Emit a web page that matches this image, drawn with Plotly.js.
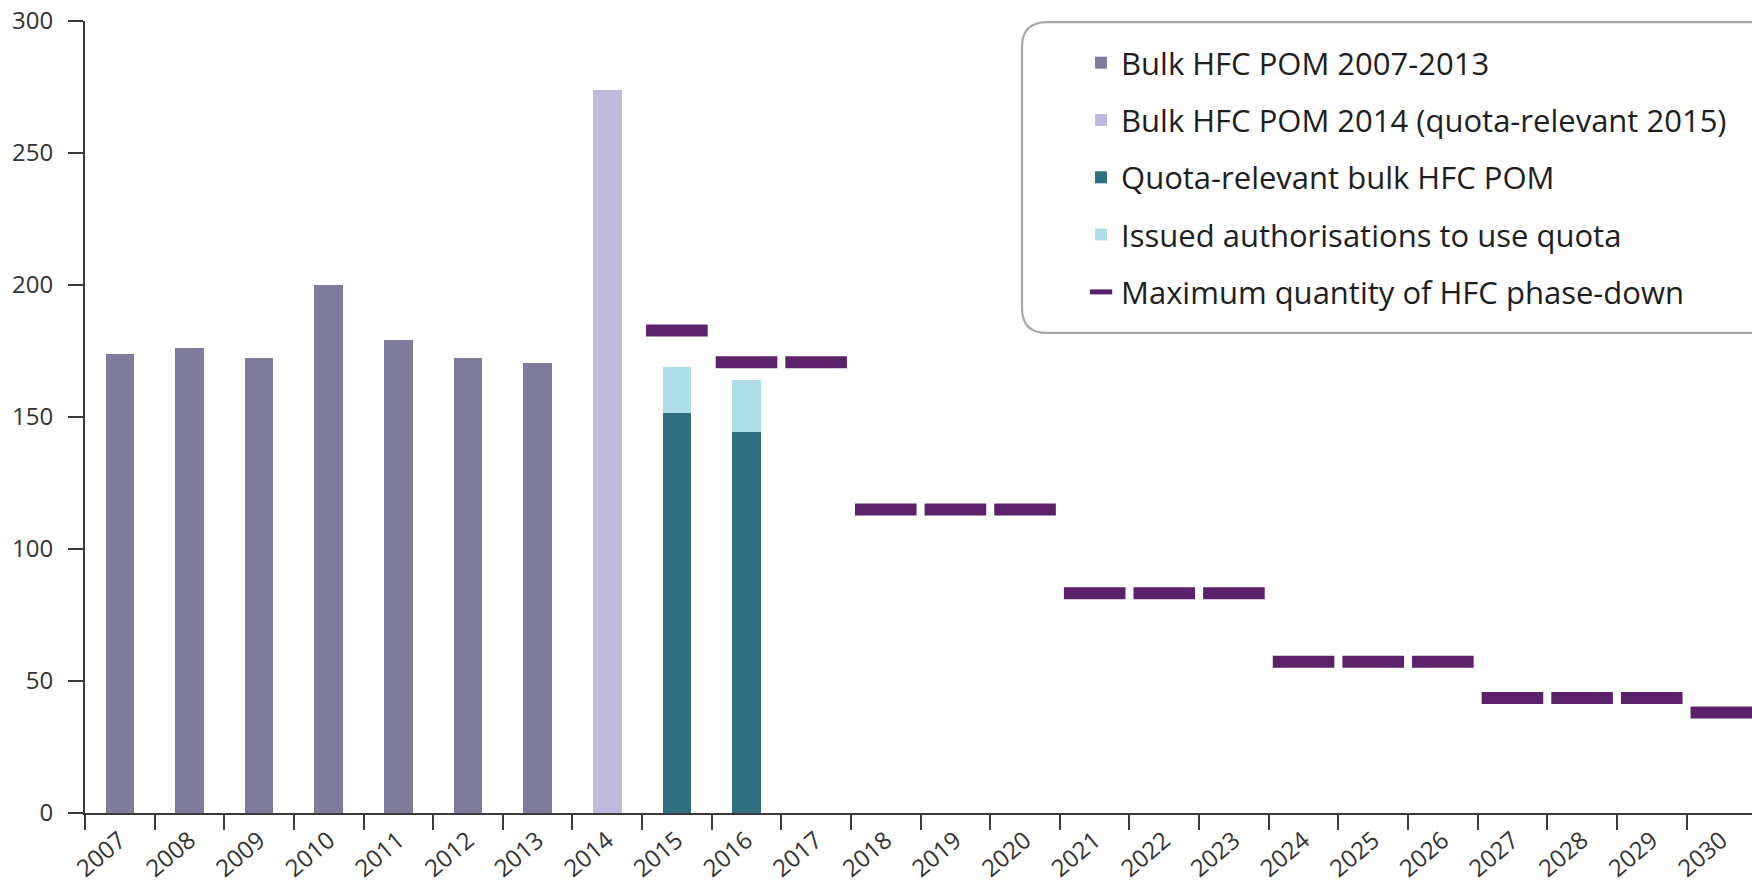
<!DOCTYPE html>
<html>
<head>
<meta charset="utf-8">
<script src="https://cdn.plot.ly/plotly-3.0.1.min.js"></script>
<style>html,body{margin:0;padding:0;overflow:hidden;background:#ffffff;}</style>
</head>
<body>
<div id="chart" style="width:1752px;height:888px;"></div>
<script>
// ---- data ----
const years = ['2007','2008','2009','2010','2011','2012','2013','2014','2015','2016','2017','2018',
               '2019','2020','2021','2022','2023','2024','2025','2026','2027','2028','2029','2030'];

const bulkYears = ['2007','2008','2009','2010','2011','2012','2013'];
const bulkValues = [174, 176, 172.5, 200, 179, 172.5, 170.5];

const bulk2014Years = ['2014'];
const bulk2014Values = [274];

const quotaYears = ['2015','2016'];
const quotaValues = [151.4, 144.4];
const authorisationValues = [17.7, 19.6];

const phaseYears = ['2015','2016','2017','2018','2019','2020','2021','2022','2023',
                    '2024','2025','2026','2027','2028','2029','2030'];
const phaseValues = [182.8, 170.7, 170.7, 115, 115, 115, 83.2, 83.2, 83.2,
                     57.3, 57.3, 57.3, 43.6, 43.6, 43.6, 38.1];

const seriesNames = [
  'Bulk HFC POM 2007-2013',
  'Bulk HFC POM 2014 (quota-relevant 2015)',
  'Quota-relevant bulk HFC POM',
  'Issued authorisations to use quota',
  'Maximum quantity of HFC phase-down'
];
const yTicks = [0, 50, 100, 150, 200, 250, 300];

// ---- styles ----
const colors = ['#7e7b9c', '#bdbadd', '#306f80', '#aedfe9', '#5b2169'];
const barWidth = 0.41;
const axisColor = '#3a3a3a';
const yTickFont = {family: 'Open Sans', size: 24, color: '#333333'};
const xTickFont = {family: 'Open Sans', size: 24, color: '#333333'};

const traces = [
  {type: 'bar', x: bulkYears, y: bulkValues, name: seriesNames[0], legendgroup: 'g0',
   width: barWidth, marker: {color: colors[0], line: {width: 0}}},
  {type: 'bar', x: bulk2014Years, y: bulk2014Values, name: seriesNames[1], legendgroup: 'g1',
   width: barWidth, marker: {color: colors[1], line: {width: 0}}},
  {type: 'bar', x: quotaYears, y: quotaValues, name: seriesNames[2], legendgroup: 'g2',
   width: barWidth, marker: {color: colors[2], line: {width: 0}}},
  {type: 'bar', x: quotaYears, y: authorisationValues, name: seriesNames[3], legendgroup: 'g3',
   width: barWidth, marker: {color: colors[3], line: {width: 0}}},
  {type: 'scatter', mode: 'markers', x: phaseYears, y: phaseValues, name: seriesNames[4], legendgroup: 'g4',
   cliponaxis: false,
   marker: {symbol: 'line-ew', size: 44, color: colors[4], line: {width: 12, color: colors[4]}}}
];

// rounded legend frame (decoration, paper coordinates)
const L = 0.5621, T = 0.9987, B = 0.6061, R = 1.02, rx = 0.0150, ry = 0.0316;
const framePath = `M ${R},${T} L ${L+rx},${T} Q ${L},${T} ${L},${T-ry} L ${L},${B+ry} Q ${L},${B} ${L+rx},${B} L ${R},${B}`;

const layout = {
  width: 1752, height: 888,
  margin: {l: 85, r: 0, t: 21, b: 75, pad: 0},
  paper_bgcolor: '#ffffff', plot_bgcolor: '#ffffff',
  barmode: 'stack',
  hovermode: false,
  showlegend: true,
  font: {family: 'Open Sans', color: '#1e1e1e'},
  xaxis: {
    type: 'category', categoryorder: 'array', categoryarray: years,
    range: [-0.5, 23.44],
    tickson: 'boundaries', ticks: 'outside', ticklen: 15, tickwidth: 2, tickcolor: axisColor,
    showline: true, linecolor: axisColor, linewidth: 2,
    showgrid: false, zeroline: false,
    tickangle: -40, tickfont: xTickFont, ticklabelstandoff: 2
  },
  yaxis: {
    range: [0, 300], tickmode: 'array', tickvals: yTicks,
    ticks: 'outside', ticklen: 15, tickwidth: 2, tickcolor: axisColor,
    showline: true, linecolor: axisColor, linewidth: 2,
    showgrid: false, zeroline: false,
    tickfont: yTickFont, ticklabelstandoff: 10
  },
  legend: {
    x: 0.5975, y: 0.981, xanchor: 'left', yanchor: 'top',
    bgcolor: 'rgba(0,0,0,0)', borderwidth: 0,
    font: {family: 'Open Sans', size: 31, color: '#1e1e1e'},
    traceorder: 'grouped', tracegroupgap: 14, itemwidth: 30
  },
  shapes: [
    {type: 'path', xref: 'paper', yref: 'paper', path: framePath,
     line: {color: '#a8a8a8', width: 2.2}, fillcolor: 'rgba(0,0,0,0)', layer: 'below'}
  ]
};

Plotly.newPlot('chart', traces, layout, {displayModeBar: false, staticPlot: true});
</script>
</body>
</html>
